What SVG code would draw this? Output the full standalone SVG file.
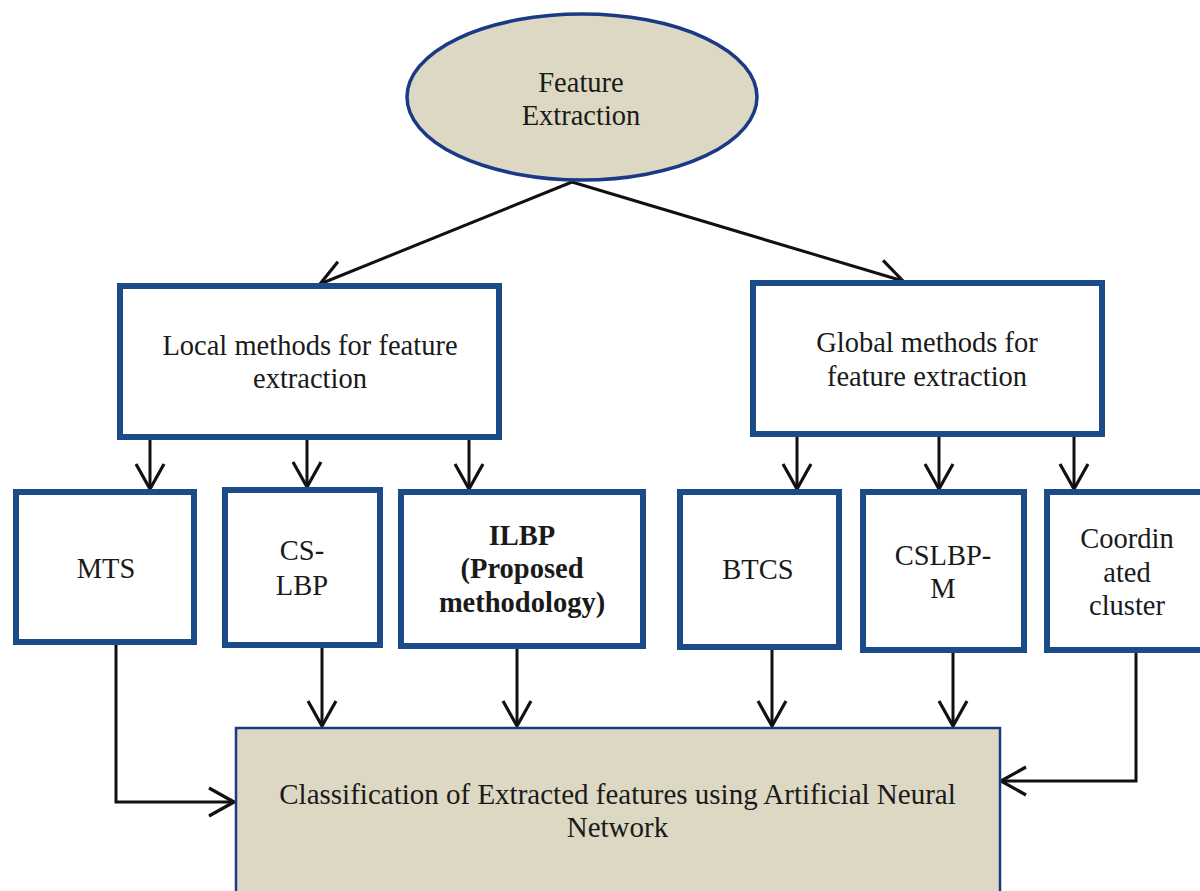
<svg xmlns="http://www.w3.org/2000/svg" width="1200" height="891" viewBox="0 0 1200 891">
<style>
  .box { fill: #ffffff; stroke: #1c4b8a; stroke-width: 6; }
  .beige { fill: #ddd8c3; }
  .t { font-family: "Liberation Serif", "Times New Roman", serif; font-size: 28.5px; fill: #1a1a1a; text-anchor: middle; }
  .b { font-weight: bold; }
  .conn { fill: none; stroke: #111111; stroke-width: 3; }
</style>
<defs>
  <marker id="arr" markerUnits="userSpaceOnUse" viewBox="-28 -17 31 34" markerWidth="31" markerHeight="34" refX="0" refY="0" orient="auto">
    <path d="M -25 -14 L 0 0 L -25 14" fill="none" stroke="#111111" stroke-width="3.2"/>
  </marker>
</defs>
<rect width="1200" height="891" fill="#ffffff"/>

<g id="connectors">
  <line class="conn" x1="572" y1="182" x2="320" y2="284" marker-end="url(#arr)"/>
  <line class="conn" x1="572" y1="182" x2="903" y2="281" marker-end="url(#arr)"/>
  <line class="conn" x1="150" y1="440" x2="150" y2="489" marker-end="url(#arr)"/>
  <line class="conn" x1="307" y1="440" x2="307" y2="487" marker-end="url(#arr)"/>
  <line class="conn" x1="469" y1="440" x2="469" y2="489" marker-end="url(#arr)"/>
  <line class="conn" x1="797" y1="437" x2="797" y2="489" marker-end="url(#arr)"/>
  <line class="conn" x1="939" y1="437" x2="939" y2="489" marker-end="url(#arr)"/>
  <line class="conn" x1="1074" y1="437" x2="1074" y2="489" marker-end="url(#arr)"/>
  <polyline class="conn" points="116,645 116,802 234,802" marker-end="url(#arr)"/>
  <line class="conn" x1="322" y1="648" x2="322" y2="726" marker-end="url(#arr)"/>
  <line class="conn" x1="517" y1="649" x2="517" y2="726" marker-end="url(#arr)"/>
  <line class="conn" x1="772" y1="650" x2="772" y2="726" marker-end="url(#arr)"/>
  <line class="conn" x1="953" y1="653" x2="953" y2="726" marker-end="url(#arr)"/>
  <polyline class="conn" points="1136,653 1136,781 1001,781" marker-end="url(#arr)"/>
</g>

<g id="feature-extraction">
  <ellipse cx="582" cy="97" rx="175" ry="83" class="beige" stroke="#1a3a86" stroke-width="3.5"/>
  <text class="t" x="581" y="92">Feature</text>
  <text class="t" x="581" y="125">Extraction</text>
</g>

<g id="local-methods">
  <rect class="box" x="120" y="286" width="379" height="151"/>
  <text class="t" x="310" y="355">Local methods for feature</text>
  <text class="t" x="310" y="388">extraction</text>
</g>

<g id="global-methods">
  <rect class="box" x="753" y="283" width="349" height="151"/>
  <text class="t" x="927" y="352">Global methods for</text>
  <text class="t" x="927" y="386">feature extraction</text>
</g>

<g id="mts">
  <rect class="box" x="16" y="492" width="178" height="150"/>
  <text class="t" x="106" y="578">MTS</text>
</g>

<g id="cs-lbp">
  <rect class="box" x="225" y="490" width="155" height="155"/>
  <text class="t" x="302" y="560">CS-</text>
  <text class="t" x="302" y="595">LBP</text>
</g>

<g id="ilbp">
  <rect class="box" x="401" y="492" width="242" height="154"/>
  <text class="t b" x="522" y="545">ILBP</text>
  <text class="t b" x="522" y="578">(Proposed</text>
  <text class="t b" x="522" y="612">methodology)</text>
</g>

<g id="btcs">
  <rect class="box" x="680" y="492" width="159" height="155"/>
  <text class="t" x="758" y="579">BTCS</text>
</g>

<g id="cslbp-m">
  <rect class="box" x="863" y="492" width="161" height="158"/>
  <text class="t" x="943" y="565">CSLBP-</text>
  <text class="t" x="943" y="598">M</text>
</g>

<g id="coordinated-cluster">
  <rect class="box" x="1047" y="492" width="165" height="158"/>
  <text class="t" x="1127" y="548">Coordin</text>
  <text class="t" x="1127" y="582">ated</text>
  <text class="t" x="1127" y="615">cluster</text>
</g>

<g id="classification">
  <rect x="236" y="728" width="764" height="180" class="beige" stroke="#1a3a86" stroke-width="2.5"/>
  <text class="t" x="617.5" y="804" style="font-size:29px">Classification of Extracted features using Artificial Neural</text>
  <text class="t" x="617.5" y="837" style="font-size:29px">Network</text>
</g>
</svg>
